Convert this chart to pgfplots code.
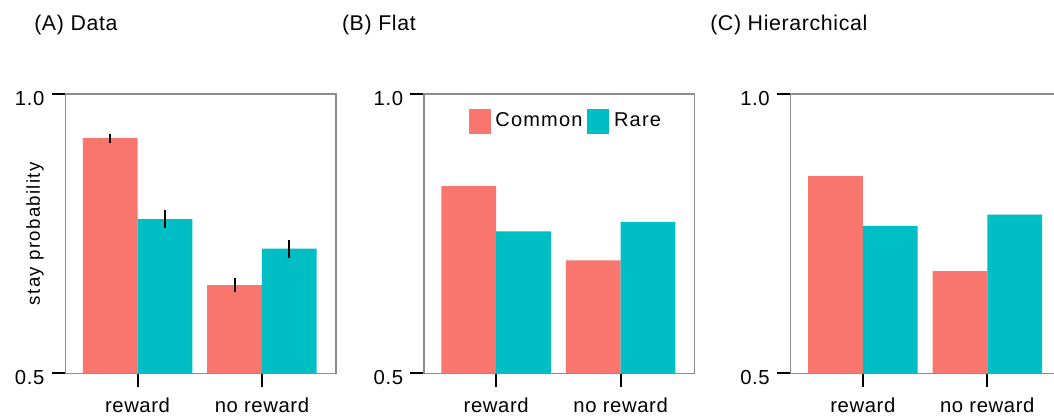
\documentclass[border=0pt]{standalone}
\usepackage{pgfplots}
\pgfplotsset{compat=1.18}
\usepackage{pgfplotstable}
\usepackage{fontspec}
\setmainfont{Liberation Sans}
\newfontfamily\titlefont[LetterSpace=3]{Liberation Sans}
\newfontfamily\labfont[LetterSpace=7]{Liberation Sans}
\newfontfamily\legfont[LetterSpace=6]{Liberation Sans}
\newfontfamily\tickfont[LetterSpace=3]{Liberation Sans}
\definecolor{cCommon}{HTML}{F8766D}
\definecolor{cRare}{HTML}{00BFC4}
\definecolor{frame}{RGB}{140,140,140}

% x: group position of the bar (common at g-0.22, rare at g+0.22)
\pgfplotstableread{
x y e
-0.22 0.921 0.008
0.78 0.658 0.0125
}\dataAcommon
\pgfplotstableread{
x y e
0.22 0.776 0.016
1.22 0.723 0.016
}\dataArare
\pgfplotstableread{
x y
-0.22 0.835
0.78 0.702
}\dataBcommon
\pgfplotstableread{
x y
0.22 0.754
1.22 0.771
}\dataBrare
\pgfplotstableread{
x y
-0.22 0.853
0.78 0.683
}\dataCcommon
\pgfplotstableread{
x y
0.22 0.764
1.22 0.784
}\dataCrare

\pgfplotsset{
  panel/.style={
    scale only axis,
    width=203pt, height=209.5pt,
    anchor=south west,
    xmin=-0.58, xmax=1.595,
    ymin=0.5, ymax=1.0,
    xtick={0,1}, xticklabels={reward,no reward},
    ytick={0.5,1.0}, yticklabels={0.5,1.0},
    xtick pos=bottom, ytick pos=left,
    tick align=outside,
    major tick length=10.2pt,
    every tick/.style={black, line width=1.5pt},
    axis line style={frame, line width=1.1pt},
    ticklabel style={font=\tickfont\fontsize{15.2}{17}\selectfont},
    yticklabel style={yshift=-3.5pt, xshift=-2pt},
    xticklabel style={yshift=-5pt},
    ybar, bar width=0.44, bar shift=0pt,
    clip=false,
  },
}

\begin{document}
\begin{tikzpicture}
\useasboundingbox (0,0) rectangle (790.5pt,312pt);

% titles
\node[anchor=base west, inner sep=0pt, font=\titlefont\fontsize{16}{19}\selectfont] at (25.5pt,288.75pt) {(A) Data};
\node[anchor=base west, inner sep=0pt, font=\titlefont\fontsize{16}{19}\selectfont] at (256.3pt,288.75pt) {(B) Flat};
\node[anchor=base west, inner sep=0pt, font=\titlefont\fontsize{16}{19}\selectfont] at (532.5pt,288.75pt) {(C) Hierarchical};

% Panel A
\begin{axis}[panel, at={(49.0pt,32.0pt)},
  ylabel={stay probability},
  ylabel style={at={(axis description cs:-0.112,0.5)}, anchor=center, font=\labfont\fontsize{14}{16}\selectfont},
]
\addplot[fill=cCommon, draw=none] table[x=x, y=y] {\dataAcommon};
\addplot[fill=cRare, draw=none] table[x=x, y=y] {\dataArare};
\addplot[draw=none, forget plot, mark=none,
  error bars/.cd, y dir=both, y explicit, error mark=none,
  error bar style={black, line width=1.5pt}]
  table[x=x, y=y, y error=e] {\dataAcommon};
\addplot[draw=none, forget plot, mark=none,
  error bars/.cd, y dir=both, y explicit, error mark=none,
  error bar style={black, line width=1.5pt}]
  table[x=x, y=y, y error=e] {\dataArare};
\end{axis}

% Panel B
\begin{axis}[panel, at={(318.0pt,32.0pt)},
  legend style={at={(rel axis cs:0.1635,0.949)}, anchor=north west, draw=none, fill=none,
    inner sep=0pt, font=\legfont\fontsize{15}{17}\selectfont,
    /tikz/every odd column/.append style={column sep=2pt},
    /tikz/every even column/.append style={column sep=1.5pt}},
  legend columns=2,
  legend cell align=left,
]
\addplot[fill=cCommon, draw=none, forget plot] table[x=x, y=y] {\dataBcommon};
\addplot[fill=cRare, draw=none, forget plot] table[x=x, y=y] {\dataBrare};
\addlegendimage{legend image code/.code={\fill[cCommon] (0pt,-9pt) rectangle (15.75pt,9pt);}}
\addlegendentry{Common}
\addlegendimage{legend image code/.code={\fill[cRare] (0pt,-9pt) rectangle (15.75pt,9pt);}}
\addlegendentry{Rare}
\end{axis}

% Panel C
\begin{axis}[panel, at={(593.0pt,32.0pt)}]
\addplot[fill=cCommon, draw=none] table[x=x, y=y] {\dataCcommon};
\addplot[fill=cRare, draw=none] table[x=x, y=y] {\dataCrare};
\end{axis}
\end{tikzpicture}
\end{document}
